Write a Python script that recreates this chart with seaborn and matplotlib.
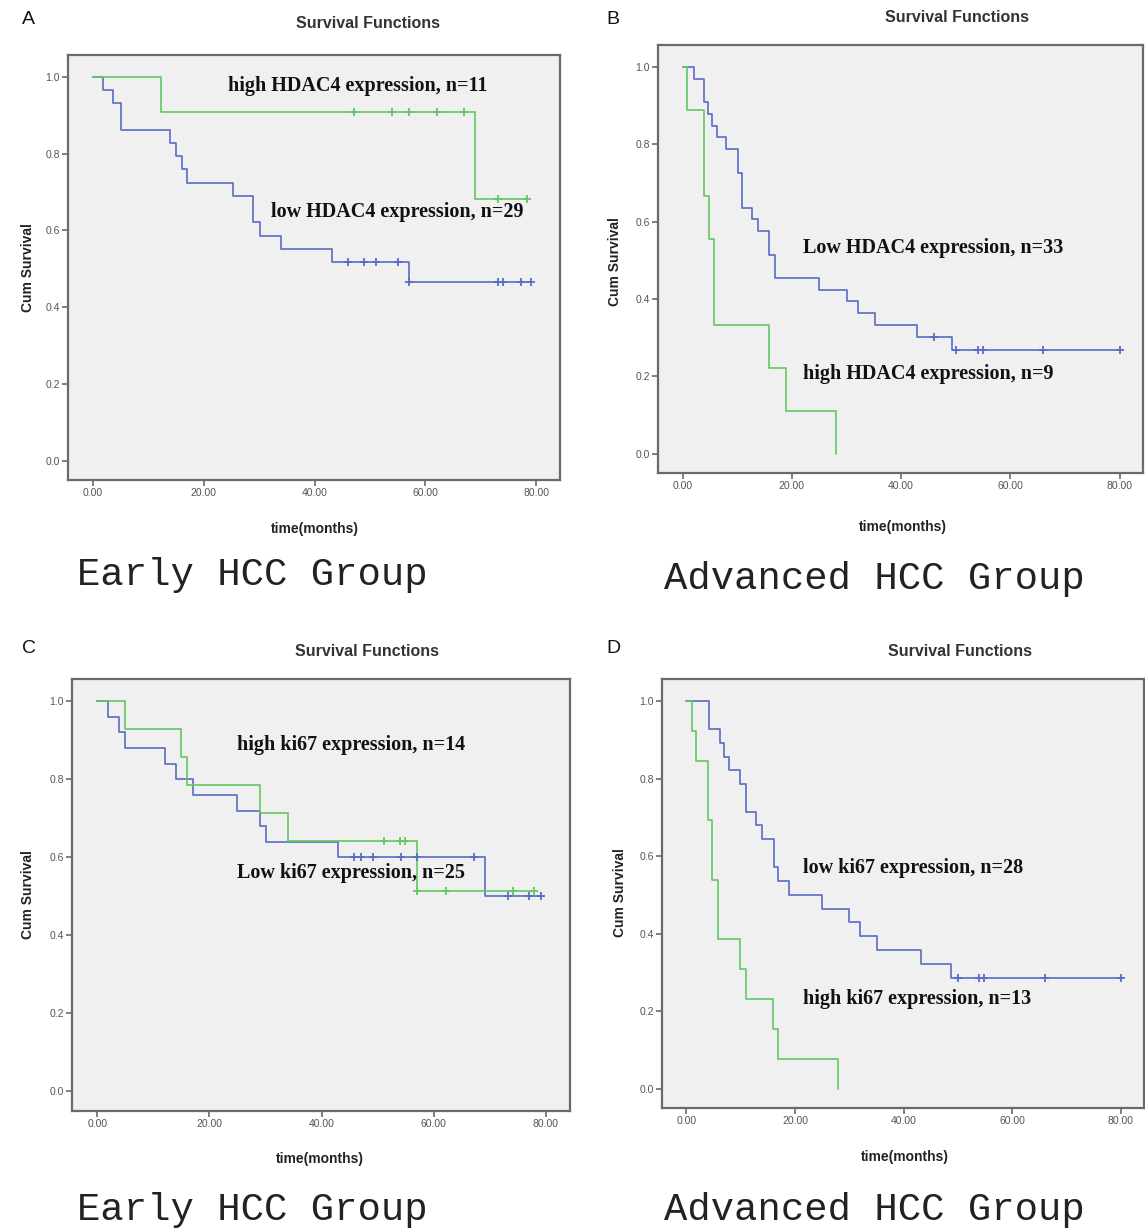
import numpy as np
import pandas as pd
import matplotlib
matplotlib.use("Agg")
import matplotlib.pyplot as plt
import seaborn as sns

# ---------------- data ----------------
# Panel A: Early HCC, HDAC4
A_high_t = [0, 12.2, 69.0, 78.4]
A_high_s = [1.0, 0.909, 0.682, 0.682]
A_high_c = [47.1, 54.0, 57.1, 62.1, 67.0, 73.1, 78.4]
A_low_t = [0, 1.8, 3.7, 5.0, 13.9, 15.0, 16.0, 17.0, 25.2, 28.9, 30.1, 34.0, 43.2, 57.1, 79.1]
A_low_s = [1.0, 0.966, 0.931, 0.862, 0.828, 0.793, 0.759, 0.724, 0.690, 0.621, 0.586, 0.552, 0.517, 0.466, 0.466]
A_low_c = [46.0, 49.0, 51.0, 55.1, 57.1, 73.1, 74.0, 77.2, 79.1]

# Panel B: Advanced HCC, HDAC4
B_high_t = [0, 0.8, 3.9, 4.8, 5.8, 15.9, 19.0, 28.0]
B_high_s = [1.0, 0.889, 0.667, 0.556, 0.333, 0.222, 0.111, 0.0]
B_high_c = []
B_low_t = [0, 2.0, 3.9, 4.6, 5.4, 6.3, 8.0, 10.1, 10.9, 12.7, 13.9, 15.8, 16.9, 25.0, 30.1, 32.1, 35.2, 43.0, 49.3, 80.0]
B_low_s = [1.0, 0.970, 0.909, 0.879, 0.848, 0.818, 0.788, 0.727, 0.636, 0.606, 0.576, 0.515, 0.455, 0.424, 0.394, 0.364, 0.333, 0.303, 0.269, 0.269]
B_low_c = [46.0, 50.0, 54.0, 55.0, 66.0, 80.0]

# Panel C: Early HCC, ki67
C_high_t = [0, 4.9, 15.0, 16.0, 29.0, 34.1, 57.1, 77.9]
C_high_s = [1.0, 0.929, 0.857, 0.786, 0.714, 0.643, 0.514, 0.514]
C_high_c = [51.1, 53.9, 54.8, 57.1, 62.2, 74.1, 77.9]
C_low_t = [0, 1.9, 3.8, 4.9, 12.0, 14.1, 17.0, 24.9, 29.0, 30.1, 43.0, 69.1, 79.1]
C_low_s = [1.0, 0.96, 0.92, 0.88, 0.84, 0.80, 0.76, 0.72, 0.68, 0.64, 0.60, 0.50, 0.50]
C_low_c = [45.8, 47.0, 49.1, 54.2, 57.0, 67.1, 73.2, 77.0, 79.1]

# Panel D: Advanced HCC, ki67
D_high_t = [0, 1.0, 1.8, 3.9, 4.8, 5.9, 9.9, 11.0, 16.0, 16.9, 28.0]
D_high_s = [1.0, 0.923, 0.846, 0.692, 0.538, 0.385, 0.308, 0.231, 0.154, 0.077, 0.0]
D_high_c = []
D_low_t = [0, 4.1, 6.1, 6.9, 7.9, 9.8, 11.0, 12.9, 14.0, 16.2, 16.8, 18.9, 24.9, 30.0, 31.9, 35.1, 43.2, 48.8, 80.0]
D_low_s = [1.0, 0.929, 0.893, 0.857, 0.821, 0.786, 0.714, 0.679, 0.643, 0.571, 0.536, 0.5, 0.464, 0.429, 0.393, 0.357, 0.321, 0.286, 0.286]
D_low_c = [50.0, 53.9, 54.9, 66.0, 80.0]

panel_letters = ["A", "B", "C", "D"]
group_captions = ["Early HCC Group", "Advanced HCC Group", "Early HCC Group", "Advanced HCC Group"]
high_labels = ["high HDAC4 expression, n=11", "high HDAC4 expression, n=9",
               "high ki67 expression, n=14", "high ki67 expression, n=13"]
low_labels = ["low HDAC4 expression, n=29", "Low HDAC4 expression, n=33",
              "Low ki67 expression, n=25", "low ki67 expression, n=28"]
x_ticks = [0, 20, 40, 60, 80]
x_ticklabels = ["0.00", "20.00", "40.00", "60.00", "80.00"]
y_ticks = [0.0, 0.2, 0.4, 0.6, 0.8, 1.0]
y_ticklabels = ["0.0", "0.2", "0.4", "0.6", "0.8", "1.0"]

# ---------------- style ----------------
sns.set_theme(style="white")
plt.rcParams['font.family'] = ['Liberation Sans', 'DejaVu Sans']

W, H = 1145, 1230
GREEN = "#62c862"
BLUE = "#586cc6"
BG = "#f0f0f0"
FRAME = "#6a6a6a"

fig = plt.figure(figsize=(W / 100, H / 100), dpi=100)
fig.patch.set_facecolor("white")


def px_axes(l, t, r, b):
    return fig.add_axes([l / W, 1 - b / H, (r - l) / W, (b - t) / H])


def ftext(x, y, s, **kw):
    fig.text(x / W, 1 - y / H, s, **kw)


panels = [
    dict(box=(68, 55, 560, 480), hi=(A_high_t, A_high_s, A_high_c), lo=(A_low_t, A_low_s, A_low_c),
         hi_xy=(24.4, 0.976), lo_xy=(32.2, 0.647),
         letter=(22, 19), title=(368, 24), xlab=(315, 529), ylab=(28, 268), cap=(77, 575)),
    dict(box=(658, 45, 1143, 473), hi=(B_high_t, B_high_s, B_high_c), lo=(B_low_t, B_low_s, B_low_c),
         hi_xy=(22.1, 0.207), lo_xy=(22.1, 0.533),
         letter=(606, 19), title=(957, 17), xlab=(903, 527), ylab=(615, 262), cap=(664, 579)),
    dict(box=(72, 679, 570, 1111), hi=(C_high_t, C_high_s, C_high_c), lo=(C_low_t, C_low_s, C_low_c),
         hi_xy=(25.0, 0.888), lo_xy=(25.0, 0.560),
         letter=(22, 649), title=(367, 651), xlab=(320, 1159), ylab=(28, 895), cap=(77, 1210)),
    dict(box=(662, 679, 1144, 1108), hi=(D_high_t, D_high_s, D_high_c), lo=(D_low_t, D_low_s, D_low_c),
         hi_xy=(21.4, 0.230), lo_xy=(21.4, 0.570),
         letter=(606, 649), title=(960, 652), xlab=(905, 1157), ylab=(620, 893), cap=(664, 1210)),
]


def draw_curve(ax, t, s, c, color):
    df = pd.DataFrame({"time": t, "surv": s})
    sns.lineplot(data=df, x="time", y="surv", drawstyle="steps-post", estimator=None,
                 sort=False, color=color, lw=1.2, ax=ax)
    if len(c):
        t_arr = np.asarray(t)
        s_arr = np.asarray(s)
        idx = np.searchsorted(t_arr, np.asarray(c), side="right") - 1
        cdf = pd.DataFrame({"time": c, "surv": s_arr[idx]})
        sns.scatterplot(data=cdf, x="time", y="surv", marker="+", s=30, color=color,
                        linewidth=1.3, ax=ax, zorder=3)


for i, p in enumerate(panels):
    ax = px_axes(*p["box"])
    ax.set_facecolor(BG)
    draw_curve(ax, *p["lo"], BLUE)
    draw_curve(ax, *p["hi"], GREEN)
    ax.set_xlim(-4.5, 84.3)
    ax.set_ylim(-0.05, 1.057)
    ax.set_xticks(x_ticks)
    ax.set_xticklabels(x_ticklabels)
    ax.set_yticks(y_ticks)
    ax.set_yticklabels(y_ticklabels)
    ax.tick_params(axis="both", which="both", direction="out", length=4, width=1.2,
                   color=FRAME, labelsize=7.5, labelcolor="#555555", pad=2,
                   bottom=True, left=True)
    ax.set_xlabel("")
    ax.set_ylabel("")
    for sp in ax.spines.values():
        sp.set_color(FRAME)
        sp.set_linewidth(1.6)
        sp.set_visible(True)
    ax.text(p["hi_xy"][0], p["hi_xy"][1], high_labels[i], family="Liberation Serif",
            fontweight="bold", fontsize=14.5, color="#111111", va="center", ha="left")
    ax.text(p["lo_xy"][0], p["lo_xy"][1], low_labels[i], family="Liberation Serif",
            fontweight="bold", fontsize=14.5, color="#111111", va="center", ha="left")

    ftext(*p["letter"], panel_letters[i], fontsize=14, color="#111111", ha="left", va="center")
    ftext(*p["title"], "Survival Functions", fontsize=11.5, fontweight="bold",
          color="#333333", ha="center", va="center")
    ftext(*p["xlab"], "time(months)", fontsize=10, fontweight="bold",
          color="#222222", ha="center", va="center")
    ftext(*p["ylab"], "Cum Survival", fontsize=10, fontweight="bold", rotation=90,
          color="#222222", ha="center", va="center")
    ftext(*p["cap"], group_captions[i], family="Liberation Mono", fontsize=28,
          color="#222222", ha="left", va="center")

fig.savefig("out.png", dpi=100, facecolor="white")
